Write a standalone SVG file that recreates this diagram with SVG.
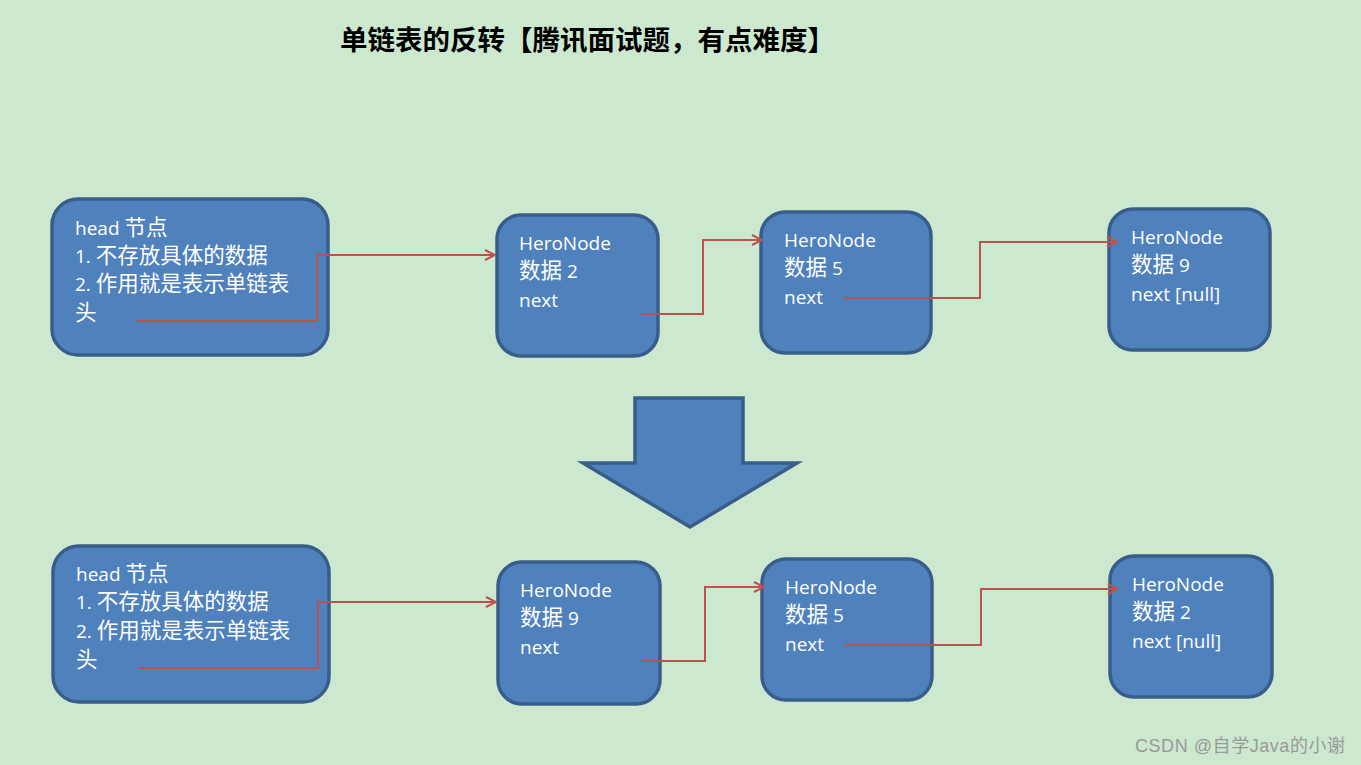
<svg xmlns="http://www.w3.org/2000/svg" width="1361" height="765" viewBox="0 0 1361 765">
<style>
.box{fill:#4f81bd;stroke:#385d8a;stroke-width:3.5}
.t{font-family:"Open Sans","Noto Sans CJK SC",sans-serif;font-size:19px;fill:#ffffff}
.k{font-size:21.5px}
.c{fill:none;stroke:#c0504d;stroke-width:2}
.title{font-family:"Liberation Serif","Noto Sans CJK SC",serif;font-size:27.5px;font-weight:bold;fill:#000}
.wm{font-family:"Liberation Sans","Noto Sans CJK SC",sans-serif;font-size:18px;fill:#9a9a9a}
</style>
<defs>
<marker id="ah" viewBox="0 0 12 12" refX="11" refY="6" markerWidth="12" markerHeight="12" markerUnits="userSpaceOnUse" orient="auto">
<path d="M1,1 L11,6 L1,11" fill="none" stroke="#c0504d" stroke-width="2"/>
</marker>
</defs>
<rect width="1361" height="765" fill="#cce8cf"/>
<text class="title" x="340" y="50" textLength="495" lengthAdjust="spacing">单链表的反转【腾讯面试题，有点难度】</text>

<g id="head1">
<rect class="box" x="52" y="199" width="276" height="156" rx="26"/>
<text class="t" x="75" y="235">head <tspan class="k">节点</tspan></text>
<text class="t" x="75" y="263">1. <tspan class="k">不存放具体的数据</tspan></text>
<text class="t" x="75" y="291">2. <tspan class="k">作用就是表示单链表</tspan></text>
<text class="t" x="75" y="320"><tspan class="k">头</tspan></text>
</g>
<g id="n2a">
<rect class="box" x="497" y="215" width="161" height="141" rx="24"/>
<text class="t" x="519" y="250">HeroNode</text>
<text class="t" x="519" y="278"><tspan class="k">数据</tspan> 2</text>
<text class="t" x="519" y="307">next</text>
</g>
<g id="n5a">
<rect class="box" x="761" y="212" width="170" height="141" rx="24"/>
<text class="t" x="784" y="247">HeroNode</text>
<text class="t" x="784" y="275"><tspan class="k">数据</tspan> 5</text>
<text class="t" x="784" y="304">next</text>
</g>
<g id="n9a">
<rect class="box" x="1109" y="209" width="161" height="141" rx="24"/>
<text class="t" x="1131" y="244">HeroNode</text>
<text class="t" x="1131" y="272"><tspan class="k">数据</tspan> 9</text>
<text class="t" x="1131" y="301">next [null]</text>
</g>

<g id="bigarrow">
<path d="M635,398 L743,398 L743,463 L797,463 L690,527 L583,463 L635,463 Z" class="box" stroke-linejoin="miter"/>
</g>

<g id="head2">
<rect class="box" x="53" y="546" width="276" height="156" rx="26"/>
<text class="t" x="76" y="581">head <tspan class="k">节点</tspan></text>
<text class="t" x="76" y="609">1. <tspan class="k">不存放具体的数据</tspan></text>
<text class="t" x="76" y="638">2. <tspan class="k">作用就是表示单链表</tspan></text>
<text class="t" x="76" y="667"><tspan class="k">头</tspan></text>
</g>
<g id="n9b">
<rect class="box" x="498" y="562" width="162" height="142" rx="24"/>
<text class="t" x="520" y="597">HeroNode</text>
<text class="t" x="520" y="625"><tspan class="k">数据</tspan> 9</text>
<text class="t" x="520" y="654">next</text>
</g>
<g id="n5b">
<rect class="box" x="762" y="559" width="170" height="141" rx="24"/>
<text class="t" x="785" y="594">HeroNode</text>
<text class="t" x="785" y="622"><tspan class="k">数据</tspan> 5</text>
<text class="t" x="785" y="651">next</text>
</g>
<g id="n2b">
<rect class="box" x="1110" y="556" width="162" height="141" rx="24"/>
<text class="t" x="1132" y="591">HeroNode</text>
<text class="t" x="1132" y="619"><tspan class="k">数据</tspan> 2</text>
<text class="t" x="1132" y="648">next [null]</text>
</g>

<g id="connectors">
<polyline class="c" points="137,321 317,321 317,255 495,255" marker-end="url(#ah)"/>
<polyline class="c" points="641,314 703,314 703,240 762,240" marker-end="url(#ah)"/>
<polyline class="c" points="844,298 980,298 980,242 1117,242" marker-end="url(#ah)"/>
<polyline class="c" points="139,668 318,668 318,602 496,602" marker-end="url(#ah)"/>
<polyline class="c" points="642,661 705,661 705,587 764,587" marker-end="url(#ah)"/>
<polyline class="c" points="845,645 981,645 981,589 1118,589" marker-end="url(#ah)"/>
</g>

<text class="wm" x="1135" y="752" textLength="210" lengthAdjust="spacing">CSDN @自学Java的小谢</text>
</svg>
